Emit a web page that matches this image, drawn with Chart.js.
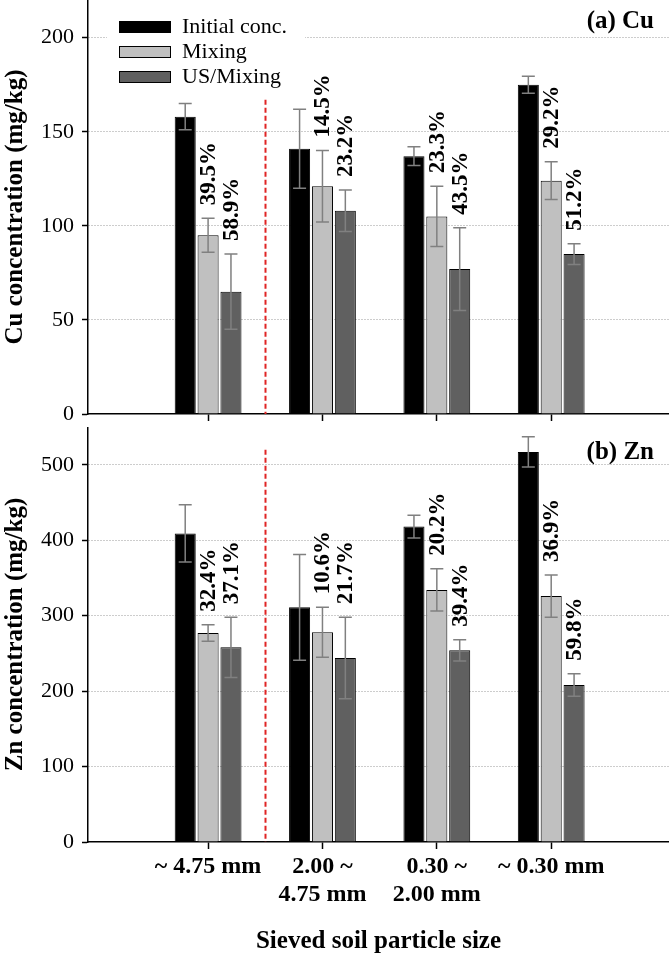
<!DOCTYPE html>
<html>
<head>
<meta charset="utf-8">
<script src="https://cdn.jsdelivr.net/npm/chart.js@4.4.0/dist/chart.umd.min.js"></script>
<style>
    html, body { margin: 0; padding: 0; background: #fff; }
    #wrap { position: relative; width: 669px; height: 962px; }
    #cuBox { position: absolute; left: 0; top: 0; width: 669px; height: 427px; }
    #znBox { position: absolute; left: 0; top: 427px; width: 669px; height: 535px; }
</style>
</head>
<body>
<div id="wrap">
    <div id="cuBox"><canvas id="cuChart"></canvas></div>
    <div id="znBox"><canvas id="znChart"></canvas></div>
</div>
<script>
// Data
const sizeLabels = [['~ 4.75 mm'], ['2.00 ~', '4.75 mm'], ['0.30 ~', '2.00 mm'], ['~ 0.30 mm']];
const positions = [1, 2, 3, 4];
const seriesNames = ['Initial conc.', 'Mixing', 'US/Mixing'];
const seriesColors = ['#000000', '#c0c0c0', '#606060'];

const cuInitial = [158, 141, 137, 175];
const cuInitialErr = [7, 21, 5, 4.5];
const cuMixing = [95, 121, 105, 124];
const cuMixingErr = [9, 19, 16, 10];
const cuUS = [65, 108, 77, 85];
const cuUSErr = [20, 11, 22, 5.5];
const cuMixingPct = ['39.5%', '14.5%', '23.3%', '29.2%'];
const cuUSPct = ['58.9%', '23.2%', '43.5%', '51.2%'];
const cuTicks = [0, 50, 100, 150, 200];

const znInitial = [409, 311, 418, 517];
const znInitialErr = [38, 70, 15, 20];
const znMixing = [277, 278, 334, 326];
const znMixingErr = [11, 33, 28, 28];
const znUS = [258, 244, 254, 208];
const znUSErr = [40, 54, 14, 15];
const znMixingPct = ['32.4%', '10.6%', '20.2%', '36.9%'];
const znUSPct = ['37.1%', '21.7%', '39.4%', '59.8%'];
const znTicks = [0, 100, 200, 300, 400, 500];

const SERIF = "'Liberation Serif', 'Times New Roman', serif";

// draws error bars, % labels, divider, panel tag and (optionally) legend
function makePanelPlugin(cfg) {
    return {
        id: 'panelExtras',
        afterDatasetsDraw(chart) {
            const ctx = chart.ctx;
            const x = chart.scales.x, y = chart.scales.y;
            const area = chart.chartArea;

            // red divider between first and second group
            ctx.save();
            ctx.strokeStyle = '#e02424';
            ctx.lineWidth = 2;
            ctx.setLineDash([5, 3]);
            const dx = Math.round(x.getPixelForValue(1.5)) + 0.5;
            ctx.beginPath();
            ctx.moveTo(dx, y.getPixelForValue(cfg.dividerTop));
            ctx.lineTo(dx, area.bottom);
            ctx.stroke();
            ctx.restore();

            // error bars
            ctx.save();
            ctx.strokeStyle = '#808080';
            ctx.lineWidth = 1.5;
            chart.data.datasets.forEach((ds, di) => {
                const meta = chart.getDatasetMeta(di);
                meta.data.forEach((bar, i) => {
                    const v = ds.data[i].y, e = cfg.errors[di][i];
                    const top = y.getPixelForValue(v + e), bot = y.getPixelForValue(v - e);
                    ctx.beginPath();
                    ctx.moveTo(bar.x, top); ctx.lineTo(bar.x, bot);
                    ctx.moveTo(bar.x - 6.5, top); ctx.lineTo(bar.x + 6.5, top);
                    ctx.moveTo(bar.x - 6.5, bot); ctx.lineTo(bar.x + 6.5, bot);
                    ctx.stroke();
                });
            });
            ctx.restore();

            // removal percentages, rotated
            ctx.save();
            ctx.fillStyle = '#000';
            ctx.font = 'bold 23px ' + SERIF;
            ctx.textAlign = 'left';
            ctx.textBaseline = 'middle';
            [1, 2].forEach(di => {
                const ds = chart.data.datasets[di];
                const meta = chart.getDatasetMeta(di);
                meta.data.forEach((bar, i) => {
                    const v = ds.data[i].y, e = cfg.errors[di][i];
                    const py = y.getPixelForValue(v + e) - 13;
                    ctx.save();
                    ctx.translate(bar.x + 1, py);
                    ctx.rotate(-Math.PI / 2);
                    ctx.fillText(cfg.pct[di - 1][i], 0, 0);
                    ctx.restore();
                });
            });
            ctx.restore();
        },
        afterDraw(chart) {
            const ctx = chart.ctx;
            // panel tag
            ctx.save();
            ctx.font = 'bold 25px ' + SERIF;
            ctx.textAlign = 'right';
            ctx.textBaseline = 'middle';
            ctx.fillStyle = '#000';
            ctx.fillText(cfg.tag, 654, cfg.tagY);
            ctx.restore();

            if (!cfg.legend) return;
            ctx.save();
            ctx.fillStyle = '#fff';
            ctx.fillRect(107, 8, 198, 84);
            ctx.font = '22px ' + SERIF;
            ctx.textBaseline = 'middle';
            seriesNames.forEach((name, i) => {
                const ly = 21 + i * 25;
                ctx.fillStyle = seriesColors[i];
                ctx.fillRect(119, ly, 52, 12);
                ctx.strokeStyle = '#000';
                ctx.lineWidth = 1;
                ctx.strokeRect(119.5, ly + 0.5, 51, 11);
                ctx.fillStyle = '#000';
                ctx.fillText(name, 182, ly + 6);
            });
            ctx.restore();
        }
    };
}

function buildDatasets(series) {
    return series.map((vals, i) => ({
        label: seriesNames[i],
        data: vals.map((v, j) => ({ x: positions[j], y: v })),
        backgroundColor: seriesColors[i],
        borderColor: '#000',
        borderWidth: 1,
        categoryPercentage: 0.6,
        barPercentage: 0.92
    }));
}

function makeChart(canvasId, opts) {
    return new Chart(document.getElementById(canvasId), {
        type: 'bar',
        data: { datasets: buildDatasets(opts.series) },
        options: {
            responsive: true,
            maintainAspectRatio: false,
            animation: false,
            events: [],
            layout: { padding: 0 },
            plugins: { legend: { display: false }, tooltip: { enabled: false } },
            scales: {
                x: {
                    type: 'linear',
                    min: -0.05,
                    max: 5.03,
                    offset: false,
                    afterBuildTicks: s => { s.ticks = s.ticks.filter(t => t.value >= 1 && t.value <= 4); },
                    afterFit: s => { s.height = opts.xHeight; s.paddingLeft = 0; s.paddingRight = 0; },
                    grid: { drawOnChartArea: false, drawTicks: true, tickLength: 7, tickColor: '#000', tickWidth: 1.5, offset: false },
                    border: { display: true, color: '#000', width: 1.5 },
                    ticks: {
                        display: opts.showX,
                        stepSize: 1,
                        autoSkip: false,
                        maxRotation: 0,
                        padding: 3,
                        color: '#000',
                        font: { family: SERIF, size: 24, weight: 'bold', lineHeight: 1.2 },
                        callback: v => sizeLabels[v - 1]
                    },
                    title: {
                        display: opts.showX,
                        text: 'Sieved soil particle size',
                        color: '#000',
                        font: { family: SERIF, size: 25, weight: 'bold' },
                        padding: { top: 0, bottom: 5 }
                    }
                },
                y: {
                    min: 0,
                    max: opts.yMax,
                    afterBuildTicks: s => { s.ticks = opts.yTicks.map(v => ({ value: v })); },
                    afterFit: s => { s.width = 88; s.paddingTop = 0; s.paddingBottom = 0; },
                    grid: {
                        color: c => (c.tick && c.tick.value === 0 ? 'rgba(0,0,0,0)' : '#9a9a9a'),
                        lineWidth: 1,
                        tickColor: '#000',
                        tickLength: 6,
                        tickWidth: 1.5
                    },
                    border: { display: true, color: '#000', width: 1.5, dash: [1, 2] },
                    ticks: {
                        padding: 8,
                        color: '#000',
                        font: { family: SERIF, size: 22 }
                    },
                    title: {
                        display: true,
                        text: opts.yTitle,
                        color: '#000',
                        font: { family: SERIF, size: 25, weight: 'bold' },
                        padding: { top: 1, bottom: 0 }
                    }
                }
            }
        },
        plugins: [makePanelPlugin(opts.extras)]
    });
}

makeChart('cuChart', {
    series: [cuInitial, cuMixing, cuUS],
    yMax: 220,
    yTicks: cuTicks,
    yTitle: 'Cu concentration (mg/kg)',
    xHeight: 13,
    showX: false,
    extras: {
        errors: [cuInitialErr, cuMixingErr, cuUSErr],
        pct: [cuMixingPct, cuUSPct],
        dividerTop: 167,
        tag: '(a) Cu',
        tagY: 22,
        legend: true
    }
});

makeChart('znChart', {
    series: [znInitial, znMixing, znUS],
    yMax: 550,
    yTicks: znTicks,
    yTitle: 'Zn concentration (mg/kg)',
    xHeight: 120,
    showX: true,
    extras: {
        errors: [znInitialErr, znMixingErr, znUSErr],
        pct: [znMixingPct, znUSPct],
        dividerTop: 520,
        tag: '(b) Zn',
        tagY: 26,
        legend: false
    }
});
</script>
</body>
</html>
